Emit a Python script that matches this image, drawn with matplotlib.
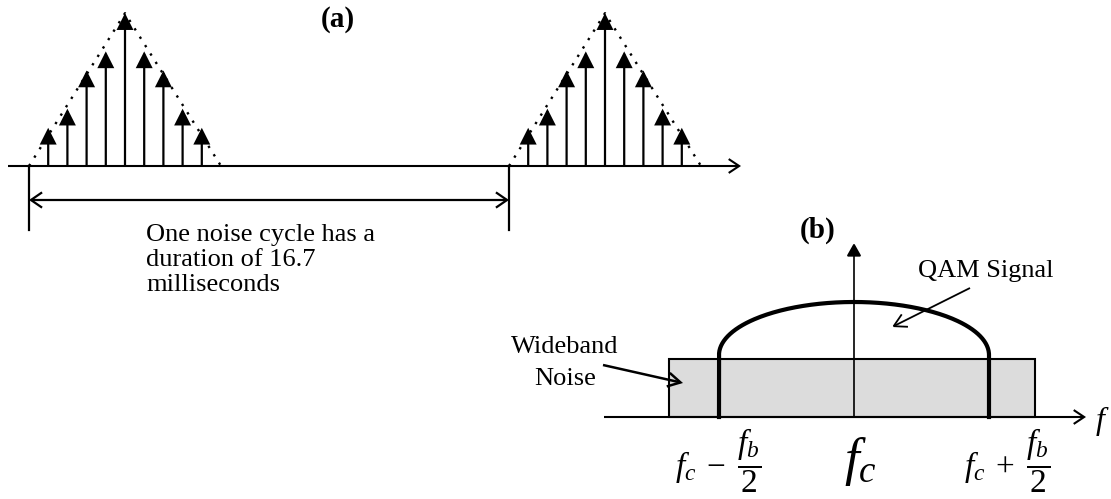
import numpy as np
import matplotlib
matplotlib.use("Agg")
import matplotlib.pyplot as plt
from matplotlib.patches import FancyArrowPatch, Rectangle

plt.rcParams['font.family'] = ['Liberation Serif', 'DejaVu Serif']
plt.rcParams['mathtext.fontset'] = 'custom'
plt.rcParams['mathtext.rm'] = 'Liberation Serif'
plt.rcParams['mathtext.it'] = 'Liberation Serif:italic'
plt.rcParams['mathtext.bf'] = 'Liberation Serif:bold'

# ---- (a) impulsive noise bursts (pixel-space layout) ----
burst_centers = [125, 605]          # centre of each noise burst
stem_offsets = [-4, -3, -2, -1, 0, 1, 2, 3, 4]
stem_amplitudes = [2, 3, 5, 6, 8, 6, 5, 3, 2]
envelope_halfwidth = 5              # in stem spacings
period_marks = [29, 509]            # one noise cycle
cycle_text = ["One noise cycle has a", "duration of 16.7", "milliseconds"]

# ---- (b) spectrum ----
fc_pos = 854
noise_band = [669, 1035]
noise_level = 58
qam_edges = [719, 989]
qam_shoulder = 62
qam_peak = 115
freq_labels = [r"$f_c\;-\;\dfrac{f_b}{2}$", r"$f_c$", r"$f_c\;+\;\dfrac{f_b}{2}$"]
freq_label_x = [718, 860, 1007]

W, H = 1111, 499
fig = plt.figure(figsize=(W / 100, H / 100), dpi=100)
ax = fig.add_axes([0, 0, 1, 1])
ax.set_xlim(0, W)
ax.set_ylim(H, 0)
ax.axis('off')

def arrow(p0, p1, style, lw=1.5, color='black', z=3):
    a = FancyArrowPatch(p0, p1, arrowstyle=style, lw=lw, color=color,
                        shrinkA=0, shrinkB=0, mutation_scale=1, zorder=z,
                        joinstyle='miter', capstyle='butt')
    ax.add_patch(a)

# (a) time axis
base_a = 166
step = 19.2
unit = 19.1
arrow((8, base_a), (741, base_a), '->,head_length=7.5,head_width=5', lw=1.5)

for c in burst_centers:
    # dotted triangular envelope
    xs = [c - envelope_halfwidth * step, c, c + envelope_halfwidth * step]
    ys = [base_a, base_a - max(stem_amplitudes) * unit, base_a]
    ax.plot(xs, ys, color='black', lw=1.7, linestyle=(0, (1, 3.2)),
            dash_capstyle='butt', zorder=2)
    for k, amp in zip(stem_offsets, stem_amplitudes):
        x = c + k * step
        arrow((x, base_a), (x, base_a - amp * unit),
              '-|>,head_length=9.5,head_width=4.8', lw=1.6)

# period marker
for x in period_marks:
    ax.plot([x, x], [base_a, 230], color='black', lw=1.6)
arrow((period_marks[0], 200), (period_marks[1], 200),
      '<->,head_length=8,head_width=5.5', lw=1.6)
for i, line in enumerate(cycle_text):
    ax.text(146, 241 + i * 25, line, fontsize=19, va='baseline', ha='left')

ax.text(338, 27, "(a)", fontsize=21, fontweight='bold', ha='center', va='baseline')

# (b) spectrum
base_b = 417
ax.add_patch(Rectangle((noise_band[0], base_b - noise_level),
                       noise_band[1] - noise_band[0], noise_level,
                       facecolor='#dcdcdc', edgecolor='black', lw=1.5, zorder=1))
arrow((604, base_b), (1086, base_b), '->,head_length=7.5,head_width=5', lw=1.5)
arrow((fc_pos, base_b), (fc_pos, 243), '-|>,head_length=8,head_width=4.5', lw=1.2)

# QAM spectrum: vertical skirts with an elliptical top
a_half = (qam_edges[1] - qam_edges[0]) / 2
y_sh = base_b - qam_shoulder
b_half = qam_peak - qam_shoulder
t = np.linspace(np.pi, 0, 200)
cx = (qam_edges[0] + qam_edges[1]) / 2
qx = np.concatenate([[qam_edges[0]], cx + a_half * np.cos(t), [qam_edges[1]]])
qy = np.concatenate([[base_b], y_sh - b_half * np.sin(t), [base_b]])
ax.plot(qx, qy, color='black', lw=3.0, solid_joinstyle='round', zorder=4)

ax.text(818, 238, "(b)", fontsize=21, fontweight='bold', ha='center', va='baseline')
ax.text(918, 277, "QAM Signal", fontsize=19, ha='left', va='baseline')
arrow((970, 288), (892, 327), '->,head_length=9,head_width=5', lw=1.3)

ax.text(565, 353, "Wideband", fontsize=19, ha='center', va='baseline')
ax.text(565, 385, "Noise", fontsize=19, ha='center', va='baseline')
arrow((603, 365), (683, 383), '->,head_length=9,head_width=5', lw=1.8)

ax.text(1102, 421, r"$f$", fontsize=23, ha='center', va='center')
sizes = [24, 38, 24]
for lab, x, s in zip(freq_labels, freq_label_x, sizes):
    ax.text(x, 461, lab, fontsize=s, ha='center', va='center')

fig.savefig("out.png", dpi=100)
